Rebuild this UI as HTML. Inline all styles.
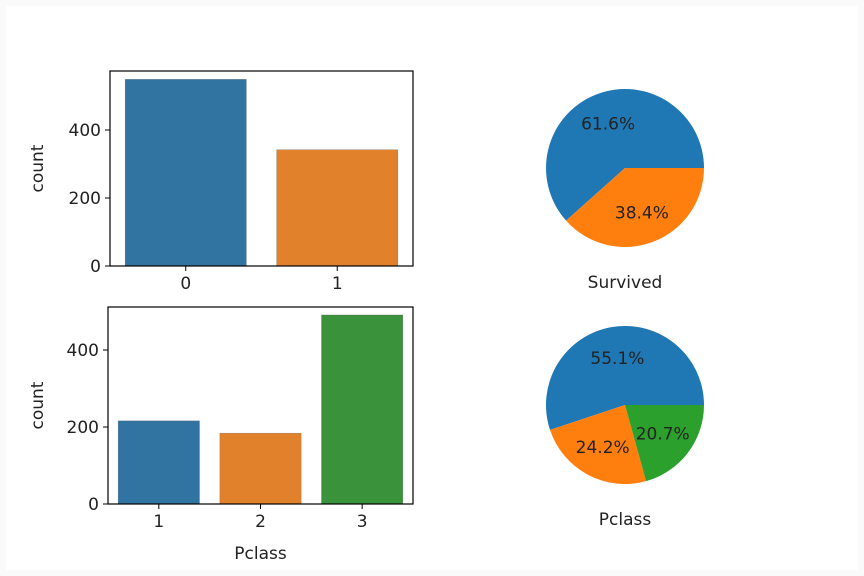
<!DOCTYPE html>
<html><head><meta charset="utf-8"><style>
body{margin:0;background:#fafafa;}
svg{display:block;font-family:"DejaVu Sans","Liberation Sans",sans-serif;}
</style></head><body>
<svg id="c" width="864" height="576">
<rect x="6" y="6" width="852" height="564" fill="#ffffff"/>
</svg>
<script>
const survCats=["0","1"];
const survCounts=[549,342];
const classCats=["1","2","3"];
const classCounts=[216,184,491];
const yTicks=[0,200,400];
const survPct=[61.6,38.4];
const classPct=[55.1,24.2,20.7];
const barColors=["#3274a1","#e1812c","#3a923a"];
const pieColors=["#1f77b4","#ff7f0e","#2ca02c"];
const svg=document.getElementById('c');
const NS="http://www.w3.org/2000/svg";
const FS=17;
function mk(t,a,txt){const e=document.createElementNS(NS,t);for(const k in a)e.setAttribute(k,a[k]);if(txt!==undefined)e.textContent=txt;svg.appendChild(e);return e;}
function barChart(cats,vals,x0,x1,y0,y1,ymax,prefix,xlabel){
  const y=v=>y1-(v/ymax)*(y1-y0);
  const band=(x1-x0)/cats.length;
  cats.forEach((c,i)=>{
    const bx=x0+band*i+band*0.1,bw=band*0.8;
    const r=mk('rect',{x:bx,y:y(vals[i]),width:bw,height:y1-y(vals[i]),fill:barColors[i],stroke:'#555','stroke-width':0.5,'stroke-opacity':0.5});
    
    
    const cx=bx+bw/2;
    const tk=mk('line',{x1:cx,x2:cx,y1:y1,y2:y1+5,stroke:'#000'});
    
    
    const tl=mk('text',{x:cx,y:y1+23,'text-anchor':'middle','font-size':FS,fill:'#222'},c);
    
    
  });
  yTicks.forEach(t=>{
    const tk=mk('line',{x1:x0-5,x2:x0,y1:y(t),y2:y(t),stroke:'#000'});
    
    
    const tl=mk('text',{x:x0-9,y:y(t)+6,'text-anchor':'end','font-size':FS,fill:'#222'},String(t));
    
    
  });
  const f=mk('rect',{x:x0,y:y0,width:x1-x0,height:y1-y0,fill:'none',stroke:'#000','stroke-width':1.2});
  
  
  const yl=mk('text',{x:0,y:0,transform:`translate(43,${(y0+y1)/2}) rotate(-90)`,'text-anchor':'middle','font-size':FS,fill:'#222'},'count');
  
  
  if(xlabel){const xl=mk('text',{x:(x0+x1)/2,y:y1+55,'text-anchor':'middle','font-size':FS,fill:'#222'},xlabel);
  
  }
}
function pie(pcts,cx,cy,r,prefix,label){
  let a=0;const tot=pcts.reduce((s,v)=>s+v,0);
  pcts.forEach((p,i)=>{
    const a0=a,a1=a+p/tot*2*Math.PI;a=a1;
    const x0=cx+r*Math.cos(a0),y0=cy-r*Math.sin(a0),x1=cx+r*Math.cos(a1),y1=cy-r*Math.sin(a1);
    const large=(a1-a0)>Math.PI?1:0;
    const s=mk('path',{d:`M${cx},${cy}L${x0},${y0}A${r},${r} 0 ${large} 0 ${x1},${y1}Z`,fill:pieColors[i]});
    
    
    const m=(a0+a1)/2;
    const t=mk('text',{x:cx+0.6*r*Math.cos(m),y:cy-0.6*r*Math.sin(m)+6,'text-anchor':'middle','font-size':FS,fill:'#222'},p.toFixed(1)+'%');
    
    
  });
  const l=mk('text',{x:cx,y:cy+r+41,'text-anchor':'middle','font-size':FS,fill:'#222'},label);
  
  
}
barChart(survCats,survCounts,110,413,71,266,200/68*195,'survived',null);
barChart(classCats,classCounts,108,413,307,504,200/77*197,'pclass','Pclass');
pie(survPct,625,168,79,'survived','Survived');
pie(classPct,625,405,79,'pclass','Pclass');
</script>
</body></html>
